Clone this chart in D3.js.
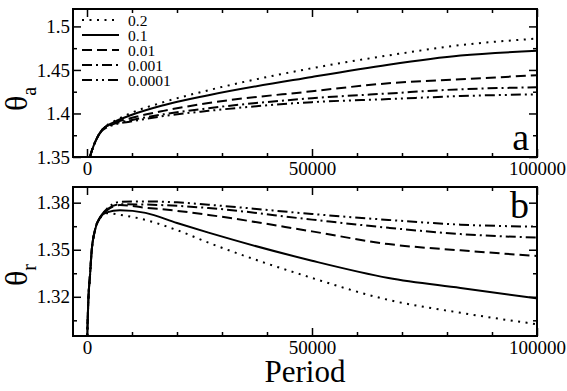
<!DOCTYPE html>
<html>
<head>
<meta charset="utf-8">
<script src="https://cdn.jsdelivr.net/npm/d3@7"></script>
<style>
  body { margin: 0; background: #fff; }
  svg text { font-family: "Liberation Serif", serif; fill: #000; }
</style>
</head>
<body>
<svg id="chart" width="567" height="391"></svg>
<script>
// series labels (legend) and their dash patterns
var labels = ["0.2", "0.1", "0.01", "0.001", "0.0001"];
var dashes = ["2,5.5", null, "10,5", "10,4,2,4", "10,4,2,4,2,4"];

// panel a : theta_a vs period
var periodA = [600, 1000, 1800, 3500, 6000, 10000, 17000, 27000, 50000, 67000, 83000, 100000];
var thetaA = [
  [1.349, 1.356, 1.367, 1.382, 1.391, 1.401, 1.413, 1.4267, 1.452, 1.4667, 1.4785, 1.486],
  [1.349, 1.356, 1.367, 1.382, 1.390, 1.3985, 1.4095, 1.421, 1.442, 1.456, 1.4665, 1.472],
  [1.349, 1.356, 1.367, 1.382, 1.389, 1.395, 1.403, 1.412, 1.4255, 1.4347, 1.4392, 1.444],
  [1.349, 1.356, 1.367, 1.382, 1.388, 1.3925, 1.399, 1.406, 1.4175, 1.423, 1.4278, 1.430],
  [1.349, 1.356, 1.367, 1.381, 1.387, 1.391, 1.397, 1.403, 1.413, 1.4165, 1.420, 1.422]
];

// panel b : theta_r vs period
var periodB = [0, 300, 700, 1000, 1800, 2900, 4400, 7300, 13000, 20000, 27000, 50000, 67000, 83000, 100000];
var thetaB = [
  [1.29, 1.318, 1.335, 1.348, 1.3625, 1.370, 1.3733, 1.3723, 1.369, 1.3625, 1.3545, 1.332, 1.318, 1.3098, 1.3025],
  [1.29, 1.318, 1.335, 1.348, 1.3628, 1.3704, 1.3738, 1.3751, 1.3735, 1.367, 1.3609, 1.343, 1.332, 1.3256, 1.319],
  [1.29, 1.318, 1.335, 1.348, 1.3628, 1.3705, 1.375, 1.3785, 1.3768, 1.3748, 1.3722, 1.3617, 1.3536, 1.3496, 1.346],
  [1.29, 1.318, 1.335, 1.348, 1.3628, 1.3705, 1.3755, 1.379, 1.3788, 1.378, 1.3766, 1.3692, 1.364, 1.360, 1.3577],
  [1.29, 1.318, 1.335, 1.348, 1.3628, 1.3705, 1.376, 1.3805, 1.3808, 1.3802, 1.3787, 1.3728, 1.369, 1.366, 1.3647]
];

// tick values
var xMajor = [0, 50000, 100000];
var xMinor = [10000, 20000, 30000, 40000, 60000, 70000, 80000, 90000];
var yMajorA = [1.35, 1.4, 1.45, 1.5];
var yMinorA = [1.375, 1.425, 1.475];
var yMajorB = [1.32, 1.35, 1.38];
var yMinorB = [1.305, 1.335, 1.365];

var svg = d3.select("#chart");
var left = 73, width = 464;

var x = d3.scaleLinear().domain([-3111, 100000]).range([0, width]);

function panel(top, height, yDomain, yMajor, yMinor, yFmt, periods, series, clipId) {
  var g = svg.append("g").attr("transform", "translate(" + left + "," + top + ")");
  var y = d3.scaleLinear().domain(yDomain).range([height, 0]);

  g.append("clipPath").attr("id", clipId)
    .append("rect").attr("width", width).attr("height", height);

  var line = d3.line()
    .x(function (d, i) { return x(periods[i]); })
    .y(function (d) { return y(d); })
    .curve(d3.curveMonotoneX);

  g.append("g").attr("clip-path", "url(#" + clipId + ")")
    .selectAll("path")
    .data(series)
    .enter()
    .append("path")
    .attr("d", line)
    .attr("fill", "none")
    .attr("stroke", "#000")
    .attr("stroke-width", 2)
    .attr("stroke-dasharray", function (d, i) { return dashes[i]; });

  // ticks on all four sides, pointing inwards
  function tickSet(axis, pos, values, size, fmt) {
    var a = axis.tickValues(values).tickSize(-size).tickPadding(fmt ? 5 : 0)
      .tickFormat(fmt || function () { return ""; });
    var ag = g.append("g").attr("transform", pos).call(a);
    ag.select(".domain").remove();
    ag.selectAll("line").attr("stroke", "#000").attr("stroke-width", 1.5);
    ag.selectAll("text").attr("font-size", 19);
    ag.attr("font-family", null);
    return ag;
  }
  tickSet(d3.axisBottom(x), "translate(0," + height + ")", xMajor, 8, d3.format("d"));
  tickSet(d3.axisBottom(x), "translate(0," + height + ")", xMinor, 4);
  tickSet(d3.axisTop(x), "translate(0,0)", xMajor, 8);
  tickSet(d3.axisTop(x), "translate(0,0)", xMinor, 4);
  var yl = tickSet(d3.axisLeft(y), "translate(0,0)", yMajor, 8, yFmt);
  yl.selectAll("text").attr("x", -3);
  tickSet(d3.axisLeft(y), "translate(0,0)", yMinor, 4);
  tickSet(d3.axisRight(y), "translate(" + width + ",0)", yMajor, 8);
  tickSet(d3.axisRight(y), "translate(" + width + ",0)", yMinor, 4);

  g.append("rect").attr("width", width).attr("height", height)
    .attr("fill", "none").attr("stroke", "#000").attr("stroke-width", 2);
  return g;
}

panel(9, 148, [1.35, 1.52], yMajorA, yMinorA, function (d) { return d3.format(".2f")(d).replace(/0$/, ""); },
  periodA, thetaA, "clipA");
panel(187, 149, [1.295, 1.39], yMajorB, yMinorB, d3.format(".2f"), periodB, thetaB, "clipB");

// legend
var leg = svg.append("g").attr("transform", "translate(82,20)");
labels.forEach(function (lab, i) {
  leg.append("line")
    .attr("x1", 0).attr("x2", 37).attr("y1", i * 15).attr("y2", i * 15)
    .attr("stroke", "#000").attr("stroke-width", 2)
    .attr("stroke-dasharray", dashes[i]);
  leg.append("text").attr("x", 46).attr("y", i * 15 + 5.5)
    .attr("font-size", 15.5).text(lab);
});

// panel letters
svg.append("text").attr("x", 529).attr("y", 150).attr("text-anchor", "end")
  .attr("font-size", 38).text("a");
svg.append("text").attr("x", 529).attr("y", 218).attr("text-anchor", "end")
  .attr("font-size", 38).text("b");

// y axis titles
function yTitle(cy, sub) {
  var t = svg.append("text")
    .attr("transform", "translate(27," + cy + ") rotate(-90)")
    .attr("font-size", 32);
  t.append("tspan").text("θ");
  t.append("tspan").attr("font-size", 20).attr("dy", 9).text(sub);
}
yTitle(111, "a");
yTitle(286, "r");

// x axis title
svg.append("text").attr("x", 305).attr("y", 382).attr("text-anchor", "middle")
  .attr("font-size", 31).text("Period");
</script>
</body>
</html>
